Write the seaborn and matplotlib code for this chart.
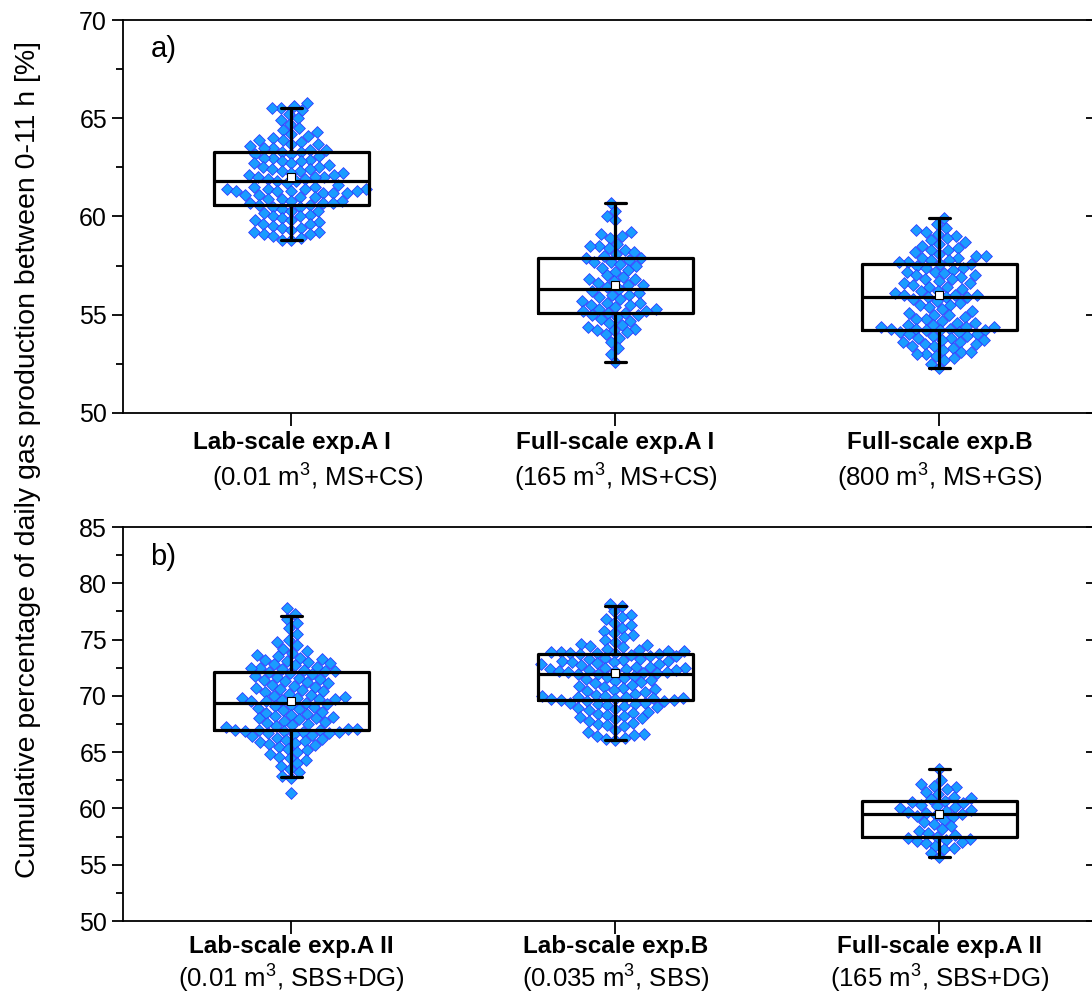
import matplotlib
matplotlib.use("Agg")
import matplotlib.pyplot as plt
import matplotlib.transforms as mtransforms
from matplotlib.ticker import MultipleLocator
import seaborn as sns
import pandas as pd

# ---------------- data ----------------
cats_a = ["Lab-scale exp.A I", "Full-scale exp.A I", "Full-scale exp.B"]
sub_a = ["(0.01 m$^3$, MS+CS)", "(165 m$^3$, MS+CS)", "(800 m$^3$, MS+GS)"]
cats_b = ["Lab-scale exp.A II", "Lab-scale exp.B", "Full-scale exp.A II"]
sub_b = ["(0.01 m$^3$, SBS+DG)", "(0.035 m$^3$, SBS)", "(165 m$^3$, SBS+DG)"]

a1 = [65.8, 65.6, 65.5, 65.5, 65.4, 65.2, 65.0, 64.9, 64.7, 64.5, 64.4, 64.3, 64.2, 64.1, 64.0, 63.9, 63.9,
      63.8, 63.7, 63.7, 63.6, 63.5, 63.5, 63.4, 63.4, 63.3, 63.3,
      63.2, 63.2, 63.1, 63.0, 63.0, 62.9, 62.8, 62.8, 62.7, 62.7, 62.6, 62.5, 62.5, 62.4, 62.4, 62.3, 62.3,
      62.2, 62.2, 62.1, 62.1, 62.0, 62.0, 62.0, 61.9, 61.9, 61.8, 61.8,
      61.7, 61.6, 61.5, 61.5, 61.4, 61.4, 61.4, 61.4, 61.3, 61.3, 61.3, 61.3, 61.2, 61.2, 61.2, 61.1, 61.1,
      61.0, 61.0, 60.9, 60.9, 60.8, 60.8, 60.7, 60.7, 60.7, 60.6, 60.6,
      60.5, 60.5, 60.4, 60.3, 60.3, 60.2, 60.1, 60.0, 60.0, 59.9, 59.8, 59.8, 59.7, 59.6, 59.6, 59.5, 59.4,
      59.4, 59.3, 59.2, 59.2, 59.1, 59.1, 59.0, 58.9, 58.8, 58.8]
a2 = [60.7, 60.3, 60.0, 59.8, 59.2, 59.1, 59.0, 58.9, 58.6, 58.5, 58.5, 58.4, 58.3, 58.2, 58.1, 58.0, 57.9, 57.9,
      57.8, 57.7, 57.7, 57.6, 57.5, 57.4, 57.3, 57.2, 57.0, 56.9, 56.8, 56.8, 56.7, 56.6, 56.5, 56.5, 56.4, 56.3,
      56.2, 56.1, 56.0, 56.0, 55.9, 55.8, 55.7, 55.6, 55.6, 55.5, 55.5, 55.4, 55.3, 55.3, 55.2, 55.2, 55.1, 55.1,
      55.0, 55.0, 54.9, 54.8, 54.7, 54.6, 54.5, 54.4, 54.3, 54.2, 54.2, 54.1, 54.0, 53.8, 53.6, 53.3, 53.0, 52.6]
a3 = [59.9, 59.6, 59.4, 59.3, 59.2, 59.1, 59.0, 58.9, 58.8, 58.7, 58.6, 58.5, 58.4, 58.3, 58.3, 58.2, 58.1,
      58.0, 58.0, 57.9, 57.9, 57.8, 57.8, 57.7, 57.7, 57.6, 57.6,
      57.5, 57.4, 57.4, 57.3, 57.2, 57.2, 57.1, 57.0, 57.0, 56.9, 56.8, 56.8, 56.7, 56.6, 56.6, 56.5, 56.4,
      56.4, 56.3, 56.2, 56.2, 56.1, 56.0, 56.0, 56.0, 55.9, 55.9, 55.9,
      55.8, 55.7, 55.6, 55.5, 55.5, 55.4, 55.3, 55.2, 55.1, 55.0, 55.0, 54.9, 54.8, 54.8, 54.7, 54.6, 54.6,
      54.5, 54.5, 54.4, 54.4, 54.4, 54.3, 54.3, 54.3, 54.2, 54.2, 54.2,
      54.1, 54.1, 54.0, 54.0, 53.9, 53.9, 53.8, 53.8, 53.7, 53.7, 53.6, 53.6, 53.5, 53.5, 53.4, 53.4, 53.3,
      53.2, 53.1, 53.1, 53.0, 53.0, 52.9, 52.8, 52.7, 52.5, 52.3]
b1 = [77.8, 77.3, 76.8, 76.5, 76.0, 75.5, 75.0, 74.8, 74.5, 74.2, 74.0, 73.8, 73.6, 73.5, 73.4, 73.3, 73.2,
      73.1, 73.0, 72.9, 72.8, 72.7, 72.6, 72.5, 72.5, 72.4, 72.3, 72.2, 72.2, 72.1,
      72.0, 71.9, 71.8, 71.7, 71.6, 71.5, 71.4, 71.3, 71.2, 71.1, 71.0, 70.9, 70.8, 70.7, 70.6, 70.5, 70.4,
      70.3, 70.2, 70.1, 70.0, 69.9, 69.8, 69.8, 69.7, 69.7, 69.6, 69.5, 69.5, 69.4,
      69.3, 69.2, 69.1, 69.0, 68.9, 68.8, 68.7, 68.6, 68.5, 68.4, 68.3, 68.2, 68.1, 68.0, 68.0, 67.9, 67.8,
      67.7, 67.6, 67.5, 67.4, 67.3, 67.2, 67.1, 67.1, 67.0, 67.0, 67.0, 65.9, 65.7,
      66.9, 66.9, 66.8, 66.8, 66.7, 66.7, 66.6, 66.5, 66.4, 66.3, 66.2, 66.1, 66.0, 65.8, 65.6, 65.5, 65.3,
      65.2, 65.0, 64.8, 64.6, 64.5, 64.3, 64.0, 63.8, 63.5, 63.2, 62.9, 62.7, 61.4]
b2 = [78.2, 78.0, 77.5, 77.2, 77.0, 76.8, 76.5, 76.3, 76.0, 75.8, 75.6, 75.4, 75.2, 75.0, 74.8, 74.6, 74.5,
      74.4, 74.3, 74.2, 74.1, 74.0, 74.0, 73.9, 73.9, 73.8, 73.8, 73.8, 73.7, 73.7,
      73.6, 73.5, 73.5, 73.4, 73.3, 73.3, 73.2, 73.1, 73.1, 73.0, 73.0, 72.9, 72.8, 72.8, 72.7, 72.6, 72.6,
      72.5, 72.5, 72.4, 72.4, 72.3, 72.3, 72.2, 72.2, 72.1, 72.1, 72.0, 72.0, 71.9, 71.9,
      71.8, 71.7, 71.6, 71.5, 71.4, 71.3, 71.2, 71.1, 71.0, 70.9, 70.8, 70.7, 70.6, 70.5, 70.4, 70.3, 70.2,
      70.1, 70.0, 70.0, 69.9, 69.9, 69.8, 69.8, 69.7, 69.7, 69.6, 69.6,
      69.5, 69.5, 69.4, 69.4, 69.3, 69.3, 69.2, 69.1, 69.0, 68.9, 68.8, 68.7, 68.6, 68.5, 68.4, 68.3, 68.2,
      68.1, 68.0, 67.9, 67.8, 67.6, 67.5, 67.4, 67.3, 67.0, 66.8, 66.6, 66.5, 66.4, 66.3, 66.2, 66.1]
b3 = [63.5, 62.5, 62.2, 62.0, 61.9, 61.7, 61.5, 61.3, 61.0, 60.9, 60.8,
      60.7, 60.6, 60.5, 60.3, 60.2, 60.1, 60.0, 59.9, 59.8, 59.7, 59.6, 59.5,
      59.4, 59.3, 59.2, 59.0, 58.8, 58.6, 58.4, 58.2, 58.0, 57.8, 57.6, 57.5,
      57.4, 57.3, 57.2, 57.1, 57.0, 56.9, 56.7, 56.5, 56.4, 56.0, 55.7]

# box statistics
q1_a = [60.6, 55.1, 54.2]
med_a = [61.8, 56.3, 55.9]
q3_a = [63.3, 57.9, 57.6]
wlo_a = [58.8, 52.6, 52.3]
whi_a = [65.5, 60.7, 59.9]
mean_a = [62.0, 56.5, 56.0]

q1_b = [67.0, 69.6, 57.5]
med_b = [69.4, 71.9, 59.5]
q3_b = [72.1, 73.7, 60.7]
wlo_b = [62.8, 66.1, 55.7]
whi_b = [77.1, 78.0, 63.5]
mean_b = [69.5, 72.0, 59.5]

# ---------------- style ----------------
sns.set_style("ticks")
plt.rcParams["font.family"] = ["Liberation Sans", "DejaVu Sans"]
plt.rcParams["mathtext.fontset"] = "custom"
plt.rcParams["mathtext.rm"] = "Liberation Sans"
plt.rcParams["mathtext.it"] = "Liberation Sans:italic"
plt.rcParams["mathtext.bf"] = "Liberation Sans:bold"
for k in ["text.color", "axes.labelcolor", "xtick.color", "ytick.color",
          "axes.edgecolor"]:
    plt.rcParams[k] = "black"

FACE = "#1a9cff"
EDGE = "#2f3cff"

W, H = 1092, 997
fig = plt.figure(figsize=(W / 100, H / 100), dpi=100)
L, R = 123, 1097
ax_a = fig.add_axes([L / W, 1 - 413 / H, (R - L) / W, 393 / H])
ax_b = fig.add_axes([L / W, 1 - 921 / H, (R - L) / W, 394 / H])


def panel(ax, cats, subs, groups, q1, med, q3, wlo, whi, mean, ylim, letter,
          y1_px, y2_px, sub_dx):
    df = pd.DataFrame({
        "cat": [c for c, g in zip(cats, groups) for _ in g],
        "val": [v for g in groups for v in g],
    })
    sns.swarmplot(data=df, x="cat", y="val", order=cats, ax=ax, marker="D",
                  size=6.0, color=FACE, edgecolor=EDGE, linewidth=0.6,
                  zorder=2, warn_thresh=1.0)
    stats = []
    for i in range(3):
        stats.append(dict(q1=q1[i], med=med[i], q3=q3[i], whislo=wlo[i],
                          whishi=whi[i], mean=mean[i], fliers=[]))
    lw = 2.3
    ax.bxp(stats, positions=[0, 1, 2], widths=0.48, showfliers=False,
           showmeans=True, manage_ticks=False, capwidths=0.065,
           boxprops=dict(color="black", linewidth=lw),
           whiskerprops=dict(color="black", linewidth=lw),
           capprops=dict(color="black", linewidth=lw),
           medianprops=dict(color="black", linewidth=lw),
           meanprops=dict(marker="s", markerfacecolor="white",
                          markeredgecolor="black", markersize=6,
                          markeredgewidth=0.8),
           zorder=3)
    ax.set_xlim(-0.52, -0.52 + (R - L) / 324)
    ax.set_ylim(*ylim)
    ax.set_xlabel("")
    ax.set_ylabel("")
    ax.set_xticks([0, 1, 2])
    ax.set_xticklabels(["", "", ""])
    ax.yaxis.set_major_locator(MultipleLocator(5))
    ax.yaxis.set_minor_locator(MultipleLocator(2.5))
    ax.tick_params(axis="y", which="major", direction="out", length=8,
                   width=1.3, labelsize=18, colors="black", left=True,
                   right=False)
    ax.tick_params(axis="y", which="minor", direction="out", length=5,
                   width=1.3, left=True, right=False)
    ax.tick_params(axis="x", which="major", direction="out", length=9,
                   width=1.3, bottom=True, top=False)
    for s in ax.spines.values():
        s.set_visible(True)
        s.set_linewidth(1.3)
        s.set_color("black")
    sec = ax.secondary_yaxis("right")
    sec.yaxis.set_major_locator(MultipleLocator(5))
    sec.tick_params(axis="y", which="major", direction="in", length=8,
                    width=1.3, labelright=False)
    sec.tick_params(axis="y", which="minor", length=0)
    sec.spines["right"].set_linewidth(1.3)

    # category labels
    h_px = ax.get_position().height * H
    bottom_px = H * (1 - ax.get_position().y0)
    trans = mtransforms.blended_transform_factory(ax.transData, ax.transAxes)
    for i in range(3):
        ax.text(i, -(y1_px - bottom_px) / h_px, cats[i], transform=trans,
                ha="center", va="center", fontsize=17.5, fontweight="bold")
        ax.text(i + sub_dx[i], -(y2_px - bottom_px) / h_px, subs[i],
                transform=trans, ha="center", va="center", fontsize=18.5)
    ax.text(0.028, 0.925, letter, transform=ax.transAxes, ha="left",
            va="center", fontsize=21)


panel(ax_a, cats_a, sub_a, [a1, a2, a3], q1_a, med_a, q3_a, wlo_a, whi_a,
      mean_a, (50, 70), "a)", 443, 478, [0.08, 0, 0])
panel(ax_b, cats_b, sub_b, [b1, b2, b3], q1_b, med_b, q3_b, wlo_b, whi_b,
      mean_b, (50, 85), "b)", 947, 979, [0, 0, 0])

fig.text(28 / W, 1 - 460 / H,
         "Cumulative percentage of daily gas production between 0-11 h [%]",
         rotation=90, ha="center", va="center", fontsize=20.5)

fig.savefig("out.png", dpi=100)
